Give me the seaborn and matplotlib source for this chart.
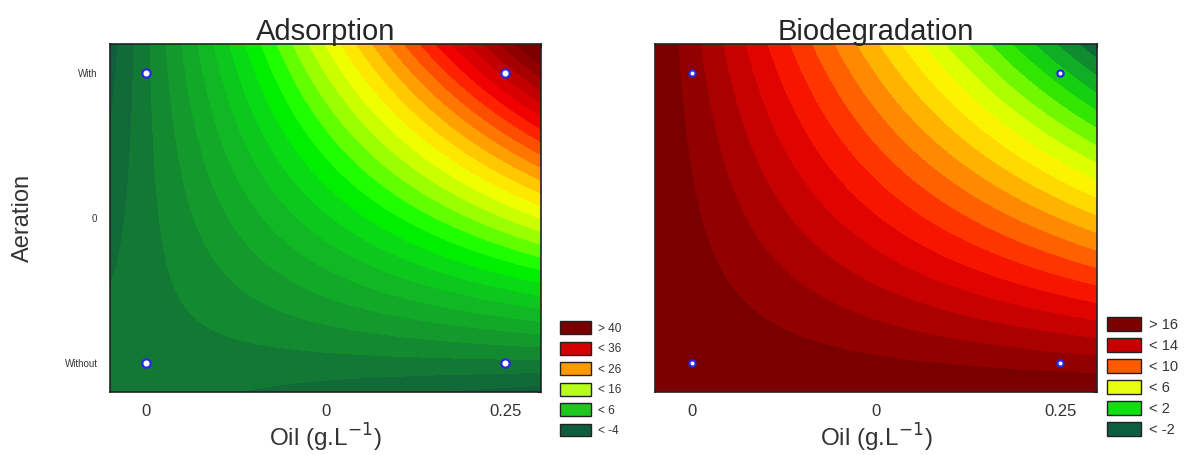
import numpy as np
import matplotlib
matplotlib.use("Agg")
import matplotlib.pyplot as plt
import seaborn as sns
from matplotlib.patches import Patch
from matplotlib.ticker import MultipleLocator

sns.set_style("white")
plt.rcParams['font.family'] = ['Liberation Sans', 'DejaVu Sans']

# coded factor levels (design points) and their tick labels
oil_levels = [-1, 0, 1]
oil_labels = ["0", "0", "0.25"]
air_levels = [-1, 0, 1]
air_labels = ["Without", "0", "With"]

# response at the 4 design points: (oil, aeration)
design_oil = [-1, 1, -1, 1]
design_air = [-1, -1, 1, 1]
adsorption = [-1.0, -0.6, -0.6, 40.5]
biodegradation = [16.9, 15.5, 15.5, 0.3]

# contour levels and legend entries
ads_levels = list(range(-4, 47, 2))
ads_legend = ["> 40", "< 36", "< 26", "< 16", "< 6", "< -4"]
ads_legend_colors = ["#7a0000", "#d40000", "#ff9a00", "#b5ff1a", "#1ec81e", "#0d5e3e"]
bio_levels = list(range(-2, 17, 1))
bio_legend = ["> 16", "< 14", "< 10", "< 6", "< 2", "< -2"]
bio_legend_colors = ["#7d0000", "#c80000", "#ff5a00", "#e8ff10", "#10e010", "#0b5e40"]

# statistica-like green -> yellow -> red band colours, low to high
ads_anchor = ["#0f5e3c", "#116b38", "#127a34", "#138a30", "#14992c", "#12a828",
              "#10b824", "#0ec81e", "#08dc14", "#00f000", "#20ff00", "#60ff00",
              "#98ff00", "#c8ff00", "#f0ff00", "#ffe800", "#ffc800", "#ffa000",
              "#ff7800", "#ff5000", "#ff2000", "#f00000", "#d80000", "#c40000",
              "#a80000", "#900000", "#7a0000"]
bio_anchor = ["#0b6a38", "#108a30", "#10a828", "#10c818", "#20e000", "#50f000",
              "#90ff00", "#c0ff00", "#e8ff00", "#fff000", "#ffd800", "#ffb400",
              "#ff9000", "#ff6a00", "#ff4400", "#ff2000", "#ee0a00", "#d80000",
              "#c00000", "#a80000", "#900000", "#7a0000"]


def fit_surface(z):
    # first order model with interaction through the design points
    X = np.column_stack([np.ones(4), design_oil, design_air,
                         np.array(design_oil) * np.array(design_air)])
    b = np.linalg.lstsq(X, np.array(z), rcond=None)[0]
    g = np.linspace(-1.2, 1.2, 400)
    xx, yy = np.meshgrid(g, g)
    return xx, yy, b[0] + b[1] * xx + b[2] * yy + b[3] * xx * yy


fig = plt.figure(figsize=(11.84, 4.55), dpi=100)
ax1 = fig.add_axes([110 / 1184, 1 - 392 / 455, 431 / 1184, 348 / 455])
ax2 = fig.add_axes([655 / 1184, 1 - 392 / 455, 442 / 1184, 348 / 455])

panels = [(ax1, "Adsorption", adsorption, ads_levels, ads_anchor, ads_legend,
           ads_legend_colors, 560, 6, 8.5, 2.6, 1.3, 0.6),
          (ax2, "Biodegradation", biodegradation, bio_levels, bio_anchor, bio_legend,
           bio_legend_colors, 1107, 4.5, 10.5, 2.3, 1.1, 0.42)]

for (ax, title, z, levels, anchor, leg_txt, leg_colors, leg_x, msize,
     leg_fs, hl, hh, ls) in panels:
    xx, yy, zz = fit_surface(z)
    band_colors = sns.blend_palette(anchor, n_colors=len(levels) + 1)
    cs = ax.contourf(xx, yy, zz, levels=levels, colors=band_colors[1:-1], extend="both")
    cs.cmap.set_under(band_colors[0])
    cs.cmap.set_over(band_colors[-1])
    cs.changed()
    cs.set_edgecolor("face")
    cs.set_linewidth(0.6)
    sns.scatterplot(x=design_oil, y=design_air, ax=ax, color="white", edgecolor="#2828e0",
                    linewidth=1.6, s=msize ** 2, marker="o", zorder=5, legend=False)
    ax.set_xlim(-1.2, 1.2)
    ax.set_ylim(-1.2, 1.2)
    ax.set_xticks(oil_levels)
    ax.set_xticklabels(oil_labels, fontsize=12, color="#333333")
    ax.set_yticks(air_levels)
    ax.set_yticklabels(air_labels if ax is ax1 else [], fontsize=7, color="#333333")
    ax.xaxis.set_minor_locator(MultipleLocator(0.2))
    ax.yaxis.set_minor_locator(MultipleLocator(0.2))
    ax.tick_params(which="both", direction="in", top=True, right=True, length=3,
                   width=0.8, color="#222222")
    ax.tick_params(axis="x", which="major", pad=9)
    ax.tick_params(axis="y", which="major", pad=9)
    for s in ax.spines.values():
        s.set_color("#222222")
        s.set_linewidth(1.2)
    ax.set_title(title, fontsize=21, pad=3)
    ax.set_xlabel("Oil (g.L$^{-1}$)", fontsize=17.5, color="#333333", labelpad=2)

    handles = [Patch(facecolor=c, edgecolor="#222222", linewidth=1.0) for c in leg_colors]
    fig.legend(handles, leg_txt, loc="lower left",
               bbox_to_anchor=(leg_x / 1184, 1 - 437 / 455), frameon=False,
               fontsize=leg_fs, handlelength=hl, handleheight=hh, labelspacing=ls,
               handletextpad=0.6, borderpad=0, borderaxespad=0, labelcolor="#333333")

ax1.set_ylabel("Aeration", fontsize=17, color="#333333", labelpad=22)

fig.savefig("out.png", dpi=100)
